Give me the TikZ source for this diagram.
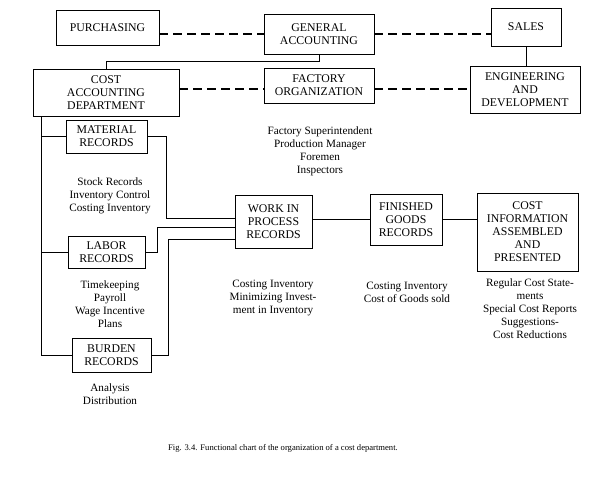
\documentclass[tikz,border=0pt]{standalone}
\usepackage{fontspec}
\setmainfont{Liberation Serif}
\begin{document}
\begin{tikzpicture}[x=1pt,y=-1pt,
  box/.style={draw,line width=0.8pt,rectangle,inner sep=0pt,align=center,font=\fontsize{11.8}{13}\selectfont},
  txt/.style={inner sep=0pt,align=center,font=\fontsize{11.2}{13}\selectfont},
  ln/.style={line width=0.8pt},
  dsh/.style={line width=1.1pt,dash pattern=on 9pt off 5pt}]
\useasboundingbox (0,0) rectangle (600,478);
% boxes
\node[box,minimum width=103pt,minimum height=35pt] (pur) at (107.5,27.5) {PURCHASING};
\node[box,minimum width=110pt,minimum height=40pt] (ga) at (319,34) {GENERAL\\ACCOUNTING};
\node[box,minimum width=70pt,minimum height=38pt] (sal) at (526,27) {SALES};
\node[box,minimum width=146pt,minimum height=47pt] (cad) at (106,92.5) {COST\\ACCOUNTING\\DEPARTMENT};
\node[box,minimum width=110pt,minimum height=35pt] (fo) at (319,85.5) {FACTORY\\ORGANIZATION};
\node[box,minimum width=110pt,minimum height=47pt] (eng) at (525,89.5) {ENGINEERING\\AND\\DEVELOPMENT};
\node[box,minimum width=81pt,minimum height=33pt] (mat) at (106.5,136.5) {MATERIAL\\RECORDS};
\node[box,minimum width=77pt,minimum height=32pt] (lab) at (106.5,252) {LABOR\\RECORDS};
\node[box,minimum width=79pt,minimum height=34pt] (bur) at (111.5,355) {BURDEN\\RECORDS};
\node[box,minimum width=77pt,minimum height=53pt] (wip) at (273.5,221.5) {WORK IN\\PROCESS\\RECORDS};
\node[box,minimum width=72pt,minimum height=51pt] (fg) at (406,219.5) {FINISHED\\GOODS\\RECORDS};
\node[box,minimum width=101pt,minimum height=78pt] (ci) at (527.5,232) {COST\\INFORMATION\\ASSEMBLED\\AND\\PRESENTED};
% texts
\node[txt] (tfo) at (320,151) {Factory Superintendent\\Production Manager\\Foremen\\Inspectors};
\node[txt] (tmat) at (110,196) {Stock Records\\Inventory Control\\Costing Inventory};
\node[txt] (tlab) at (110,304.5) {Timekeeping\\Payroll\\Wage Incentive\\Plans};
\node[txt] (tbur) at (110,394) {Analysis\\Distribution};
\node[txt] (twip) at (273,298) {Costing Inventory\\Minimizing Invest-\\ment in Inventory};
\node[txt] (tfg) at (407,292) {Costing Inventory\\Cost of Goods sold};
\node[txt] (tci) at (530,309) {Regular Cost State-\\ments\\Special Cost Reports\\Suggestions-\\Cost Reductions};
\node[txt,font=\fontsize{8.6}{10}\selectfont] (cap) at (283,448) {Fig. 3.4. Functional chart of the organization of a cost department.};
% helper coordinates
\coordinate (dy1) at (0,89);
\coordinate (bx) at (41,0);
\coordinate (m1) at (166,218);
\coordinate (l1) at (157,227);
\coordinate (b1) at (168,239);
% dashed connectors
\draw[dsh] (pur.east |- ga.west) -- (ga.west);
\draw[dsh] (ga.east) -- (ga.east -| sal.west);
\draw[dsh] (cad.east |- dy1) -- (fo.west |- dy1);
\draw[dsh] (fo.east |- dy1) -- (eng.west |- dy1);
% solid connectors
\draw[ln] (sal.south) -- (sal.south |- eng.north);
\draw[ln] (ga.south) -- ++(0,7) -| (cad.north);
\draw[ln] (bx |- cad.south) |- (bur.west);
\draw[ln] (bx |- mat.west) -- (mat.west);
\draw[ln] (bx |- lab.west) -- (lab.west);
\draw[ln] (mat.east) -| (m1) -- (m1 -| wip.west);
\draw[ln] (lab.east) -| (l1) -- (l1 -| wip.west);
\draw[ln] (bur.east) -| (b1) -- (b1 -| wip.west);
\draw[ln] (wip.east |- fg.west) -- (fg.west);
\draw[ln] (fg.east) -- (fg.east -| ci.west);
\end{tikzpicture}
\end{document}
